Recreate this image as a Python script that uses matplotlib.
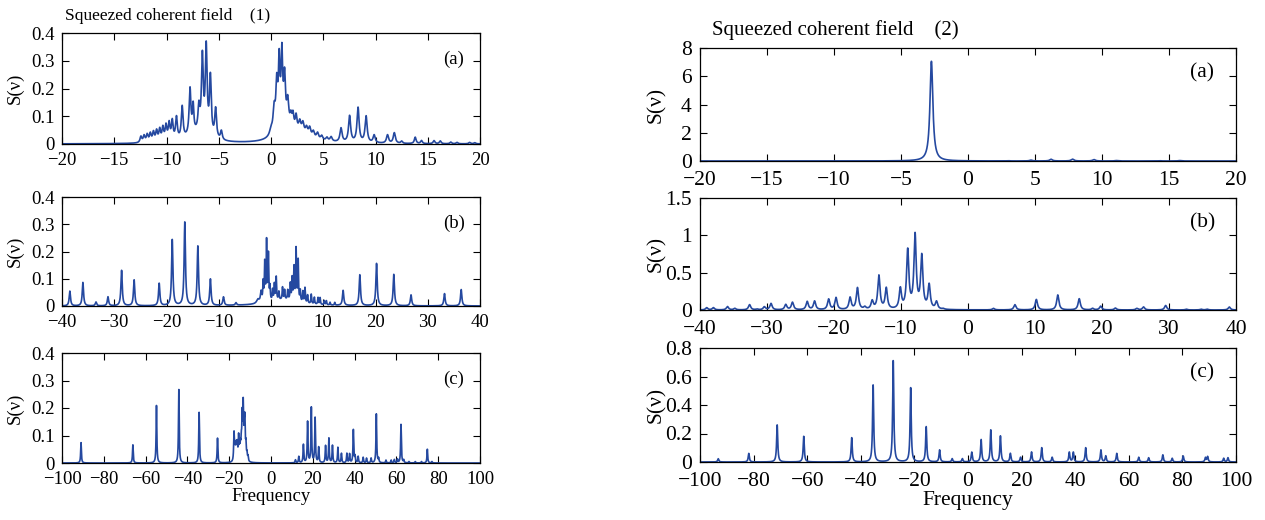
import numpy as np
import matplotlib
matplotlib.use("Agg")
import matplotlib.pyplot as plt

plt.rcParams['font.family'] = ['Liberation Serif', 'DejaVu Serif']
plt.rcParams['axes.unicode_minus'] = True

LINE = '#2549a0'

# ---------------- data: spectral lines (centre, height, half width) ----------------
# Field (1), panel (a)
p1a_c = [-12.45, -12.15, -11.85, -11.55, -11.25, -10.95, -10.65, -10.35, -10.05, -9.75, -9.45, -9.05,
         -8.5, -7.75, -7.45, -6.9, -6.57, -6.2, -5.8, -5.3, -4.75, -7.0,
         0.0, 0.3, 0.55, 0.78, 1.04, 1.3, 1.6, 1.9, 2.1, 2.4, 2.75, 3.05, 3.4, 3.7, 4.05, 4.45, 4.85,
         5.35, 5.75, 6.7, 7.52, 8.33, 9.1, 9.87, 11.15, 11.8, 12.5, 13.8, 14.4, 15.6, 16.2, 17.2,
         17.8, 19.0, 19.5, 1.0, 2.5]
p1a_h = [0.022, 0.024, 0.027, 0.030, 0.034, 0.038, 0.042, 0.047, 0.053, 0.060, 0.068, 0.080,
         0.115, 0.165, 0.095, 0.085, 0.27, 0.31, 0.21, 0.105, 0.032, 0.035,
         0.02, 0.08, 0.15, 0.2, 0.21, 0.15, 0.09, 0.04, 0.05, 0.05, 0.035, 0.035, 0.025, 0.03,
         0.022, 0.022, 0.015, 0.012, 0.016, 0.05, 0.095, 0.125, 0.095, 0.028, 0.03, 0.038, 0.008,
         0.023, 0.011, 0.011, 0.01, 0.006, 0.005, 0.005, 0.004, 0.09, 0.035]
p1a_w = [0.1] * 12 + [0.1, 0.1, 0.08, 0.1, 0.1, 0.1, 0.1, 0.1, 0.1, 1.2] + \
        [0.15, 0.12, 0.1, 0.08, 0.08, 0.09, 0.12, 0.1, 0.1, 0.1, 0.12, 0.12, 0.12, 0.12, 0.12, 0.12,
         0.12, 0.12, 0.12, 0.12, 0.12, 0.12, 0.12, 0.12, 0.12, 0.12, 0.1, 0.1, 0.1, 0.1, 0.1, 0.1,
         0.1, 0.1, 0.1, 0.45, 1.5]

# Field (1), panel (b)
p1b_c = [-38.5, -36.0, -33.5, -31.2, -28.6, -26.2, -21.4, -18.9, -16.5, -14.0, -11.6, -9.1, -6.7,
         -2.5, -1.9, -1.5, -1.2, -0.85, -0.5, -0.2, 0.3, 0.65, 1.0, 1.5, 2.2, 2.6, 3.2, 3.7, 4.05,
         4.4, 4.8, 5.2, 5.6, 6.1, 6.5, 7.0, 7.7, 8.3, 9.0, 9.4, 10.2, 10.6, 11.3, 12.2, 13.8, 17.0,
         20.2, 23.5, 26.8, 33.2, 36.4, 2.5]
p1b_h = [0.054, 0.086, 0.014, 0.033, 0.13, 0.095, 0.082, 0.242, 0.306, 0.218, 0.097, 0.031, 0.009,
         0.015, 0.04, 0.07, 0.14, 0.22, 0.17, 0.05, 0.04, 0.06, 0.085, 0.03, 0.045, 0.035, 0.035,
         0.06, 0.08, 0.12, 0.19, 0.15, 0.04, 0.04, 0.055, 0.03, 0.035, 0.025, 0.025, 0.025, 0.015,
         0.015, 0.01, 0.01, 0.055, 0.113, 0.155, 0.115, 0.04, 0.045, 0.06, 0.022]
p1b_w = [0.15] * 13 + [0.3, 0.15] + [0.08] * 29 + [0.15] * 7 + [3.5]

# Field (1), panel (c)
p1c_c = [-90.9, -66.1, -54.8, -44.1, -34.4, -25.6,
         -17.7, -17.3, -16.9, -16.5, -16.1, -15.5, -15.0, -14.6, -14.2, -13.8, -13.3, -12.8, -12.5,
         -12.0, -11.5, -11.0,
         11.7, 13.3, 15.5, 17.5, 19.3, 21.1, 22.8, 26.1, 27.7, 29.4, 32.0, 33.7, 36.3, 37.6, 39.4,
         40.2, 41.7, 44.1, 45.7, 47.9, 50.4, 51.5, 55.0, 57.5, 59.0, 60.5, 62.2, 63.5, 66.0, 69.0,
         72.0, 74.8, 77.0]
p1c_h = [0.074, 0.066, 0.209, 0.267, 0.184, 0.09,
         0.1, 0.045, 0.045, 0.05, 0.055, 0.085, 0.045, 0.045, 0.06, 0.15, 0.19, 0.09, 0.13,
         0.055, 0.025, 0.018,
         0.011, 0.023, 0.066, 0.149, 0.2, 0.163, 0.056, 0.062, 0.089, 0.063, 0.056, 0.034, 0.034,
         0.032, 0.12, 0.023, 0.023, 0.02, 0.017, 0.017, 0.178, 0.015, 0.01, 0.01, 0.012, 0.013,
         0.14, 0.01, 0.005, 0.005, 0.005, 0.05, 0.005]
p1c_w = [0.2] * len(p1c_c)

# Field (2), panel (a)
p2a_c = [-2.73, 3.0, 4.7, 6.2, 7.8, 9.4, 11.06, 14.3, 15.8]
p2a_h = [7.06, 0.02, 0.06, 0.12, 0.13, 0.1, 0.03, 0.02, 0.03]
p2a_w = [0.13, 0.1, 0.12, 0.12, 0.12, 0.12, 0.12, 0.12, 0.12]

# Field (2), panel (b)
p2b_c = [-39.0, -38.0, -35.9, -34.8, -32.6, -31.5, -30.4, -29.4, -27.2, -26.2, -24.0, -22.9,
         -20.8, -19.7, -17.6, -16.5, -15.4, -14.3, -13.3, -12.2, -10.1, -9.0, -7.9, -6.9, -5.8,
         -4.7, -3.7, 3.8, 7.0, 10.2, 13.4, 16.6, 18.6, 19.8, 22.0, 25.2, 26.2, 29.5, 32.6, 34.8,
         35.7, 39.0]
p2b_h = [0.03, 0.03, 0.045, 0.02, 0.07, 0.01, 0.04, 0.085, 0.07, 0.1, 0.11, 0.115,
         0.14, 0.16, 0.16, 0.29, 0.03, 0.11, 0.45, 0.28, 0.27, 0.78, 0.98, 0.7, 0.32,
         0.1, 0.01, 0.02, 0.07, 0.14, 0.2, 0.15, 0.02, 0.05, 0.025, 0.02, 0.04, 0.06, 0.01, 0.01,
         0.01, 0.04]
p2b_w = [0.2] * len(p2b_c)

# Field (2), panel (c)
p2c_c = [-93.2, -81.8, -71.2, -61.3, -43.4, -35.4, -27.9, -21.4, -15.6, -10.6, -5.9, -2.1,
         1.4, 4.9, 8.5, 12.1, 15.8, 19.6, 23.7, 27.5, 31.4, 37.8, 39.3, 43.9, 49.6, 51.4, 55.5,
         63.7, 67.4, 72.7, 76.2, 80.3, 88.6, 89.4, 95.4, 97.0]
p2c_h = [0.023, 0.06, 0.26, 0.18, 0.17, 0.54, 0.71, 0.52, 0.247, 0.084, 0.023, 0.023,
         0.068, 0.156, 0.224, 0.182, 0.06, 0.033, 0.07, 0.1, 0.033, 0.068, 0.068, 0.1, 0.084,
         0.042, 0.06, 0.033, 0.03, 0.05, 0.026, 0.042, 0.03, 0.037, 0.026, 0.03]
p2c_w = [0.25] * len(p2c_c)

# axes settings
xlims = [(-20, 20), (-40, 40), (-100, 100)]
xticks = [list(range(-20, 21, 5)), list(range(-40, 41, 10)), list(range(-100, 101, 20))]
y1_ticks = [0, 0.1, 0.2, 0.3, 0.4]
y1_labels = ['0', '0.1', '0.2', '0.3', '0.4']
y2a_ticks = [0, 2, 4, 6, 8]
y2a_labels = ['0', '2', '4', '6', '8']
y2b_ticks = [0, 0.5, 1, 1.5]
y2b_labels = ['0', '0.5', '1', '1.5']
y2c_ticks = [0, 0.2, 0.4, 0.6, 0.8]
y2c_labels = ['0', '0.2', '0.4', '0.6', '0.8']
panel_tags = ['(a)', '(b)', '(c)']
titles = ['Squeezed coherent field    (1)', 'Squeezed coherent field    (2)']


def spectrum(x, c, h, w):
    c = np.asarray(c)[:, None]
    h = np.asarray(h)[:, None]
    w = np.asarray(w)[:, None]
    return (h / (1.0 + ((x[None, :] - c) / w) ** 2)).sum(axis=0)


W, H = 1265, 520
fig = plt.figure(figsize=(W / 100, H / 100), dpi=100)


def ax_at(x0, y0, x1, y1):
    return fig.add_axes([x0 / W, 1 - y1 / H, (x1 - x0) / W, (y1 - y0) / H])


boxes = [
    [(62, 33, 480, 144), (62, 197, 480, 306), (62, 353, 480, 463)],
    [(700, 48, 1236, 161), (700, 198, 1236, 310), (700, 348, 1236, 462)],
]
data = [
    [(p1a_c, p1a_h, p1a_w), (p1b_c, p1b_h, p1b_w), (p1c_c, p1c_h, p1c_w)],
    [(p2a_c, p2a_h, p2a_w), (p2b_c, p2b_h, p2b_w), (p2c_c, p2c_h, p2c_w)],
]
yset = [
    [(y1_ticks, y1_labels, 0.4)] * 3,
    [(y2a_ticks, y2a_labels, 8), (y2b_ticks, y2b_labels, 1.5), (y2c_ticks, y2c_labels, 0.8)],
]
ylab_x = [-0.091, -0.063]
fsize = [13.5, 15.5]
tag_y = [0.76, 0.78]
xpad = [6, 7]
ypad = [5, 6]

for col in range(2):
    for row in range(3):
        ax = ax_at(*boxes[col][row])
        lo, hi = xlims[row]
        x = np.linspace(lo, hi, 40001)
        c, h, w = data[col][row]
        ax.plot(x, spectrum(x, c, h, w), color=LINE, lw=1.2)
        ax.set_xlim(lo, hi)
        ticks, labels, ytop = yset[col][row]
        ax.set_ylim(0, ytop)
        ax.set_yticks(ticks)
        ax.set_yticklabels(labels)
        ax.set_xticks(xticks[row])
        ax.tick_params(direction='in', top=True, right=True, length=5, width=0.8,
                       labelsize=fsize[col])
        ax.tick_params(axis='x', pad=xpad[col])
        ax.tick_params(axis='y', pad=ypad[col])
        for s in ax.spines.values():
            s.set_linewidth(0.9)
        ax.set_ylabel('S(ν)', fontsize=fsize[col])
        ax.yaxis.set_label_coords(ylab_x[col], 0.5)
        ax.text(0.937, tag_y[col], panel_tags[row], transform=ax.transAxes,
                fontsize=fsize[col], ha='center', va='center')
        if row == 2:
            ax.set_xlabel('Frequency', fontsize=fsize[col], labelpad=0)

fig.text(65 / W, 1 - 16 / H, titles[0], fontsize=12.5, ha='left', va='center')
fig.text(712 / W, 1 - 30 / H, titles[1], fontsize=15, ha='left', va='center')

fig.savefig('out.png', dpi=100, facecolor='white')
